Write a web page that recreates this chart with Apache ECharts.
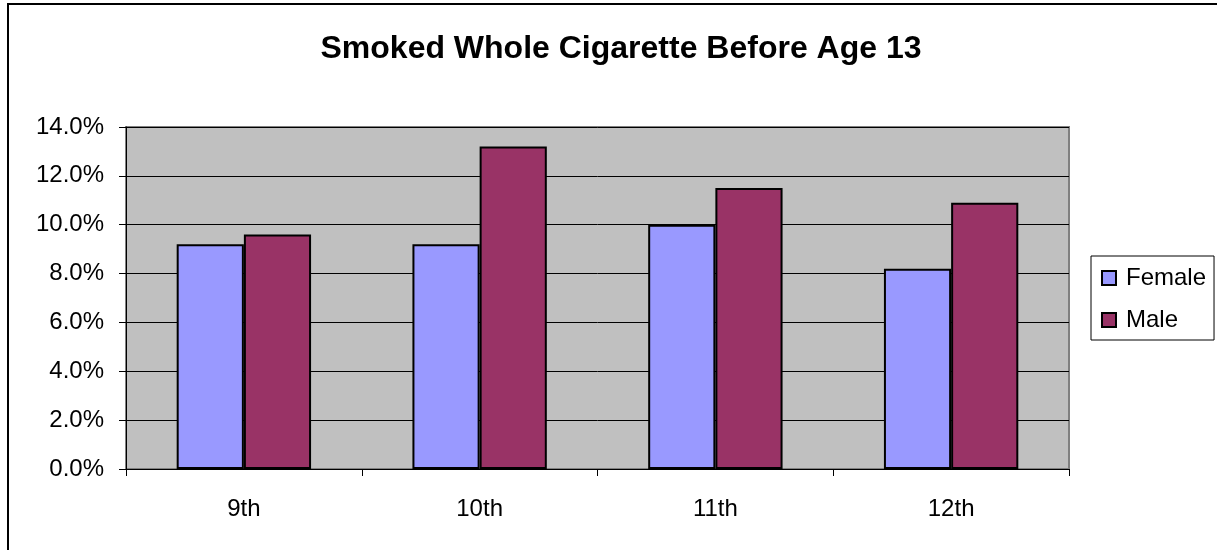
<!DOCTYPE html>
<html>
<head>
<meta charset="utf-8">
<script src="https://cdn.jsdelivr.net/npm/echarts@6/dist/echarts.min.js"></script>
<style>
  html, body { margin: 0; padding: 0; background: #fff; }
  #chart { width: 1217px; height: 550px; }
</style>
</head>
<body>
<div id="chart"></div>
<script>
// Grade levels and share of students per group
const grades = ['9th', '10th', '11th', '12th'];
const female = [9.2, 9.2, 10.0, 8.2];
const male = [9.6, 13.2, 11.5, 10.9];
const seriesNames = ['Female', 'Male'];

const chart = echarts.init(document.getElementById('chart'));
const font = 'Liberation Sans, Arial, sans-serif';

chart.setOption({
  animation: false,
  backgroundColor: '#ffffff',
  textStyle: { fontFamily: font },
  graphic: [{
    type: 'rect',
    shape: { x: 8, y: 4, width: 1400, height: 800 },
    style: { fill: 'none', stroke: '#000', lineWidth: 2 },
    silent: true,
    z: 100
  }],
  title: {
    text: 'Smoked Whole Cigarette Before Age 13',
    left: 616,
    textAlign: 'center',
    top: 28,
    textStyle: { fontFamily: font, fontSize: 32, fontWeight: 'bold', color: '#000' }
  },
  legend: {
    data: seriesNames,
    orient: 'vertical',
    left: 1091,
    top: 256,
    padding: [10, 8, 8, 10],
    itemGap: 18,
    itemWidth: 14,
    itemHeight: 14,
    borderColor: '#000',
    borderWidth: 1,
    borderRadius: 0,
    icon: 'rect',
    textStyle: { fontFamily: font, fontSize: 24, color: '#000', padding: [0, 0, 0, 5] }
  },
  grid: {
    left: 126,
    right: 148,
    top: 127,
    bottom: 81,
    show: true,
    backgroundColor: '#c0c0c0',
    borderColor: '#808080',
    borderWidth: 2
  },
  xAxis: {
    type: 'category',
    data: grades,
    axisLine: { lineStyle: { color: '#000', width: 1 } },
    axisTick: { show: true, length: 7, lineStyle: { color: '#000' } },
    axisLabel: { fontFamily: font, fontSize: 24, color: '#000', margin: 28 }
  },
  yAxis: {
    type: 'value',
    min: 0,
    max: 14,
    interval: 2,
    axisLine: { show: true, lineStyle: { color: '#000', width: 1 } },
    axisTick: { show: true, length: 7, lineStyle: { color: '#000' } },
    splitLine: { lineStyle: { color: '#000', width: 1 } },
    axisLabel: {
      fontFamily: font, fontSize: 24, color: '#000', margin: 22,
      formatter: v => v.toFixed(1) + '%'
    }
  },
  series: [
    {
      name: seriesNames[0],
      type: 'bar',
      data: female,
      barGap: '0%',
      barCategoryGap: '43%',
      itemStyle: { color: '#9999ff', borderColor: '#000', borderWidth: 2 }
    },
    {
      name: seriesNames[1],
      type: 'bar',
      data: male,
      itemStyle: { color: '#993366', borderColor: '#000', borderWidth: 2 }
    }
  ]
});
</script>
</body>
</html>
